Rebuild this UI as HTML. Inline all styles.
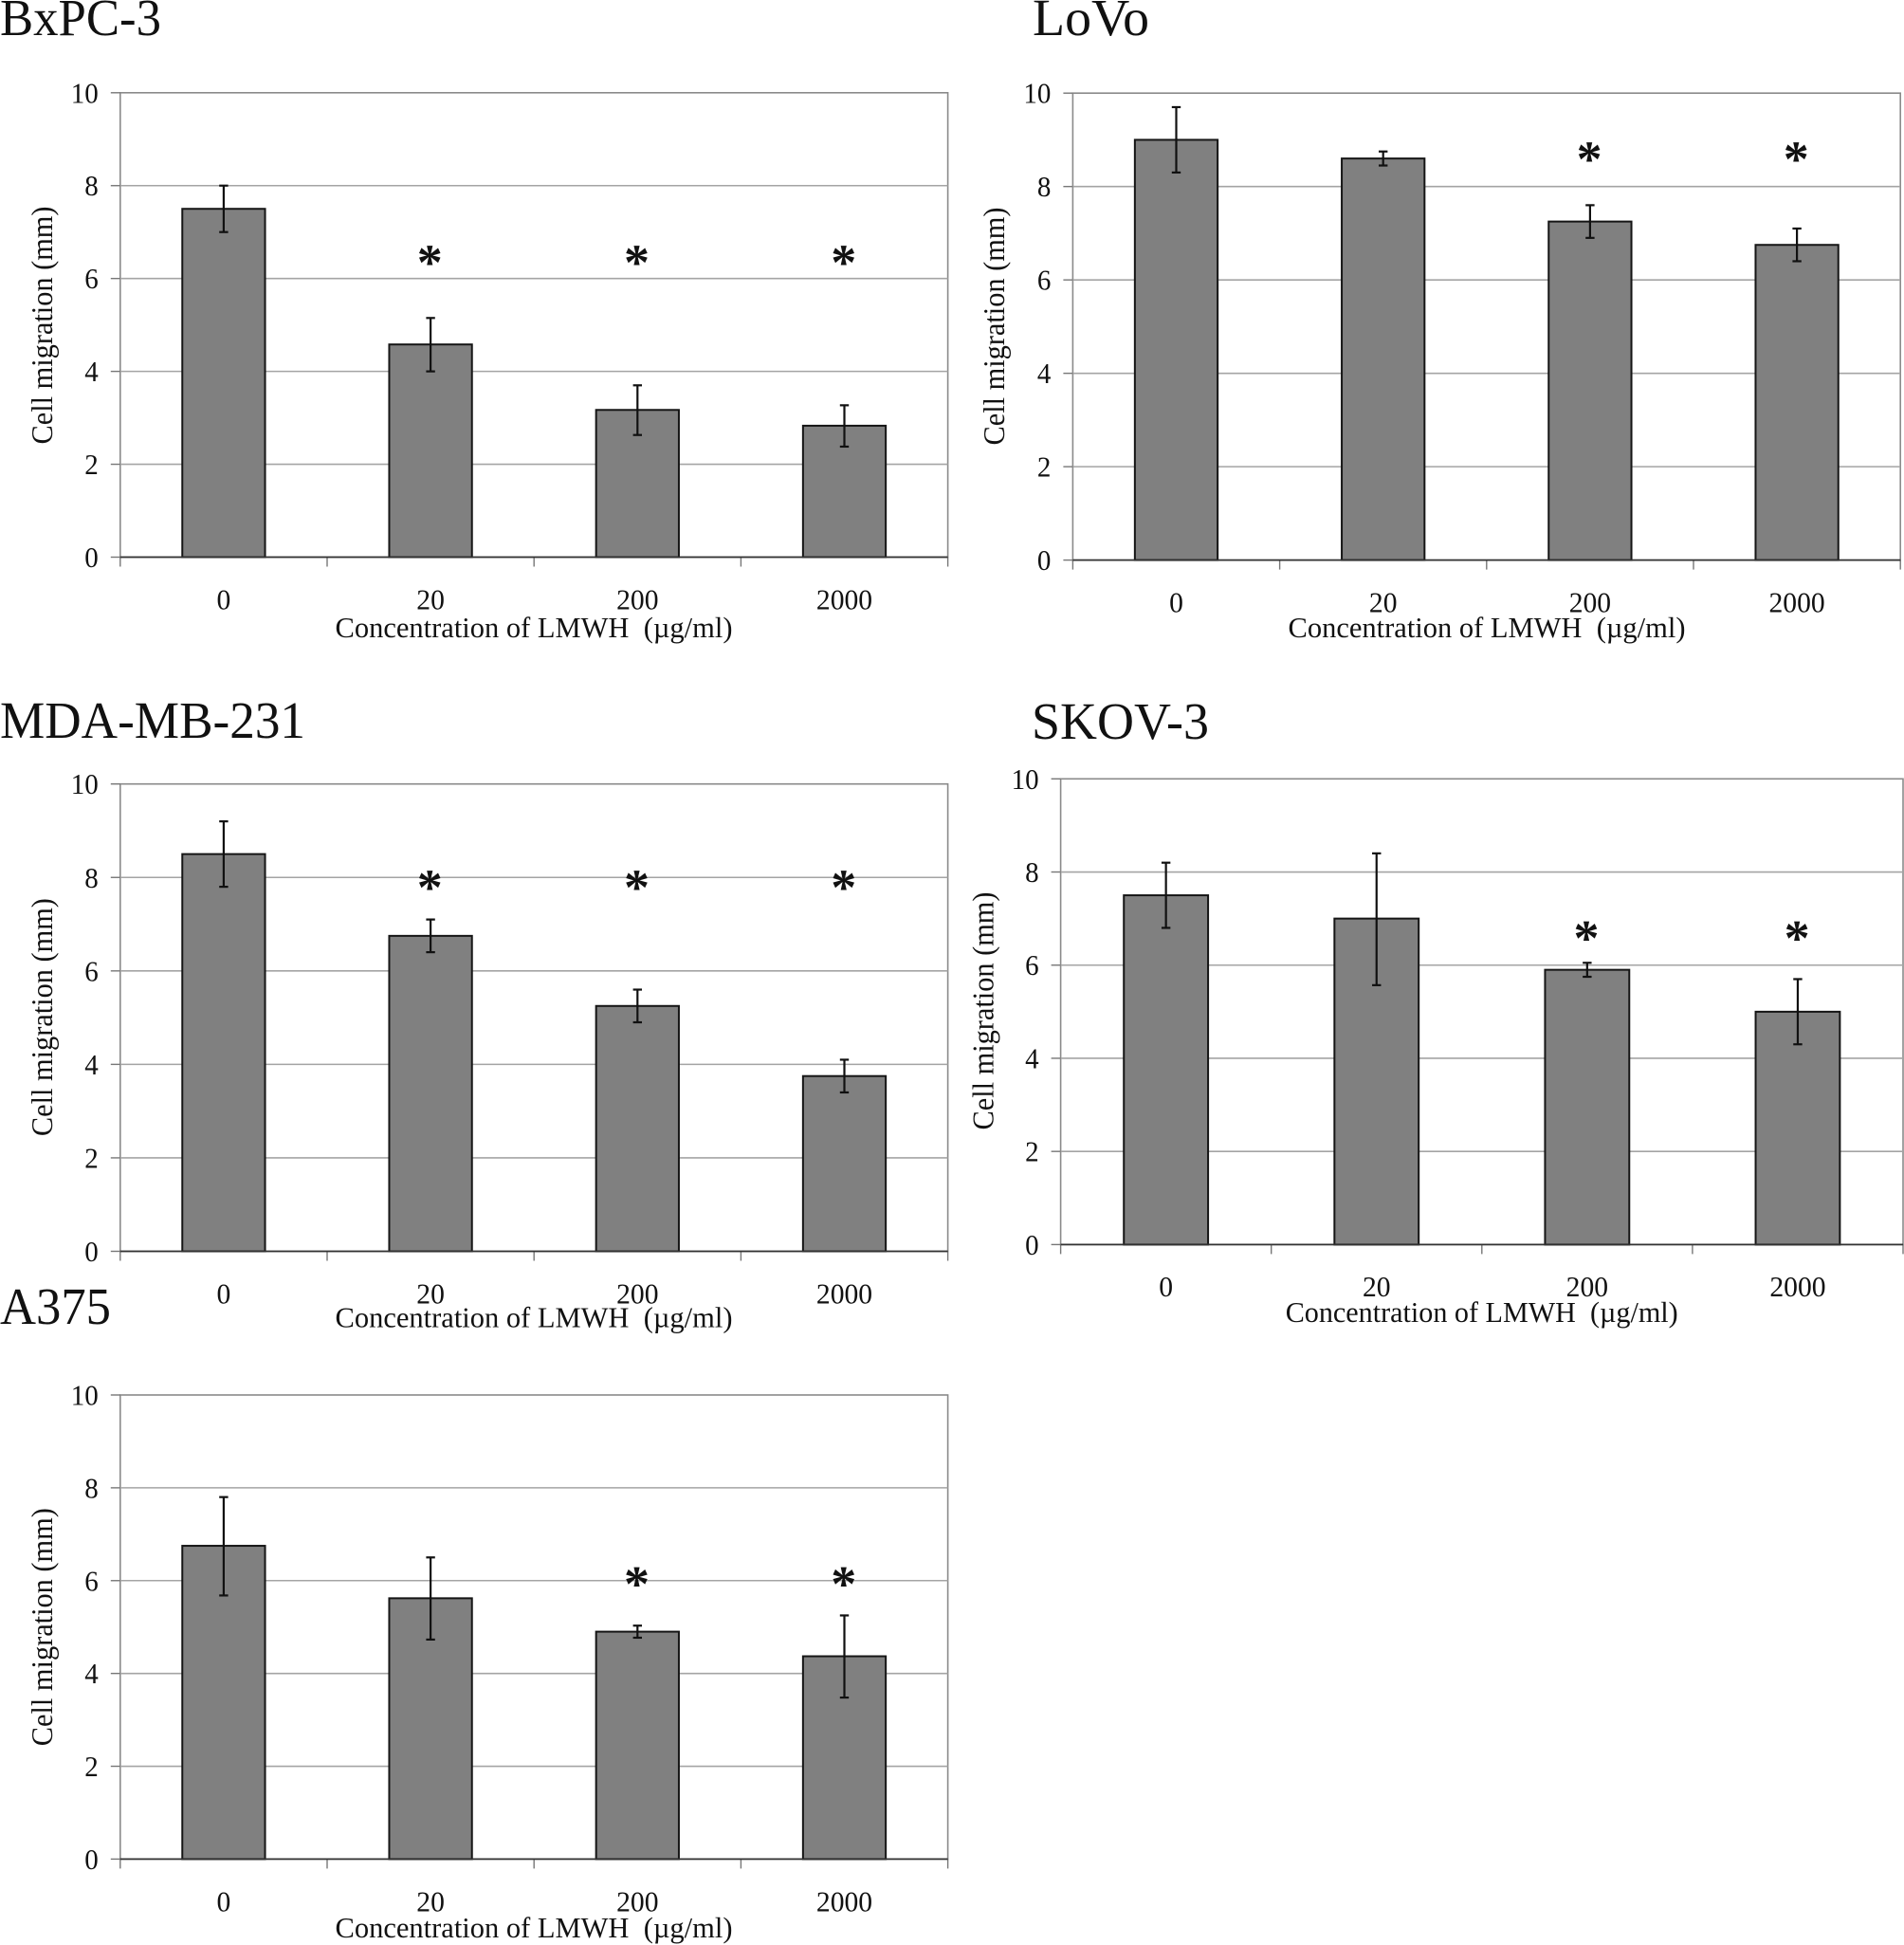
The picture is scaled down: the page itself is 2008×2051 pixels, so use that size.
<!DOCTYPE html>
<html lang="en">
<head>
<meta charset="utf-8">
<title>Cell migration by LMWH concentration</title>
<style>
  html, body { margin: 0; padding: 0; background: #fff; }
  #figure { display: block; width: 2008px; height: 2051px; background: #fff; }
  text { font-family: "Liberation Serif", serif; fill: #111; white-space: pre; }
</style>
</head>
<body>
<svg id="figure" xmlns="http://www.w3.org/2000/svg" width="2008" height="2051" viewBox="0 0 2008 2051"></svg>
<script>
// ---- Shared labels ----
const categories = ["0", "20", "200", "2000"];
const yTickLabels = [0, 2, 4, 6, 8, 10];

// ---- BxPC-3 ----
const bxpcMeans = [7.5, 4.58, 3.17, 2.83];
const bxpcUpper = [8.0, 5.15, 3.7, 3.27];
const bxpcLower = [7.0, 4.0, 2.63, 2.38];
const bxpcStars = [null, 6.48, 6.48, 6.48];

// ---- LoVo ----
const lovoMeans = [9.0, 8.6, 7.25, 6.75];
const lovoUpper = [9.7, 8.75, 7.6, 7.1];
const lovoLower = [8.3, 8.45, 6.9, 6.4];
const lovoStars = [null, null, 8.72, 8.72];

// ---- MDA-MB-231 ----
const mdaMeans = [8.5, 6.75, 5.25, 3.75];
const mdaUpper = [9.2, 7.1, 5.6, 4.1];
const mdaLower = [7.8, 6.4, 4.9, 3.4];
const mdaStars = [null, 7.92, 7.92, 7.92];

// ---- SKOV-3 ----
const skovMeans = [7.5, 7.0, 5.9, 5.0];
const skovUpper = [8.2, 8.4, 6.05, 5.7];
const skovLower = [6.8, 5.57, 5.75, 4.3];
const skovStars = [null, null, 6.72, 6.72];

// ---- A375 ----
const a375Means = [6.75, 5.62, 4.9, 4.37];
const a375Upper = [7.8, 6.5, 5.03, 5.25];
const a375Lower = [5.68, 4.73, 4.77, 3.48];
const a375Stars = [null, null, 6.07, 6.07];

const panels = [
  { id: "bxpc-3", title: "BxPC-3", titleX: 0, titleY: 37, titleW: 170,
    left: 126.8, right: 999.6, top: 97.8, bottom: 587.5,
    tickY: 642.5, xTitleX: 563, xTitleY: 672, xTitleW: 419, yTitleX: 45, yTitleY: 343,
    means: bxpcMeans, upper: bxpcUpper, lower: bxpcLower, stars: bxpcStars },
  { id: "lovo", title: "LoVo", titleX: 1089, titleY: 37, titleW: 123,
    left: 1131.4, right: 2004.2, top: 98.2, bottom: 590.6,
    tickY: 645.5, xTitleX: 1568, xTitleY: 672, xTitleW: 419, yTitleX: 1049, yTitleY: 344,
    means: lovoMeans, upper: lovoUpper, lower: lovoLower, stars: lovoStars },
  { id: "mda-mb-231", title: "MDA-MB-231", titleX: 0, titleY: 778, titleW: 322,
    left: 126.8, right: 999.6, top: 826.7, bottom: 1319.5,
    tickY: 1374.5, xTitleX: 563, xTitleY: 1399.4, xTitleW: 419, yTitleX: 45, yTitleY: 1072.6,
    means: mdaMeans, upper: mdaUpper, lower: mdaLower, stars: mdaStars },
  { id: "skov-3", title: "SKOV-3", titleX: 1088, titleY: 779, titleW: 187,
    left: 1118.6, right: 2007, top: 821.3, bottom: 1312.4,
    tickY: 1367, xTitleX: 1562.7, xTitleY: 1394, xTitleW: 414, yTitleX: 1037.5, yTitleY: 1066,
    means: skovMeans, upper: skovUpper, lower: skovLower, stars: skovStars },
  { id: "a375", title: "A375", titleX: 0, titleY: 1396, titleW: 117,
    left: 126.8, right: 999.6, top: 1471, bottom: 1960.4,
    tickY: 2015.5, xTitleX: 563, xTitleY: 2043, xTitleW: 419, yTitleX: 45, yTitleY: 1715.7,
    means: a375Means, upper: a375Upper, lower: a375Lower, stars: a375Stars }
];

const SVG_NS = "http://www.w3.org/2000/svg";
const root = document.getElementById("figure");

function make(tag, parent, attrs) {
  const el = document.createElementNS(SVG_NS, tag);
  for (const k in attrs) el.setAttribute(k, attrs[k]);
  parent.appendChild(el);
  return el;
}

function drawPanel(p) {
  const yMax = yTickLabels[yTickLabels.length - 1];
  const yScale = v => p.bottom - (v / yMax) * (p.bottom - p.top);
  const band = (p.right - p.left) / categories.length;
  const xCenter = i => p.left + band * (i + 0.5);
  const barWidth = band * 0.4;

  const g = make("g", root, {});
  
  

  const title = make("text", g, { x: p.titleX, y: p.titleY, "font-size": 55, textLength: p.titleW, lengthAdjust: "spacingAndGlyphs" });
  title.textContent = p.title;
  
  

  // plot frame
  const frame = make("rect", g, { x: p.left, y: p.top, width: p.right - p.left, height: p.bottom - p.top, fill: "#fff", stroke: "#8a8a8a", "stroke-width": 1.6 });
  
  

  // gridlines and y ticks
  yTickLabels.forEach(v => {
    const y = yScale(v);
    if (v > 0 && v < yMax) {
      const grid = make("line", g, { x1: p.left, x2: p.right, y1: y, y2: y, stroke: "#a4a4a4", "stroke-width": 1.6 });
      
      
    }
    const tick = make("line", g, { x1: p.left - 10, x2: p.left, y1: y, y2: y, stroke: "#777", "stroke-width": 1.4 });
    
    
    const vText = String(v);
    const label = make("text", g, { x: p.left - 23, y: y + 10.5, "font-size": 31, "text-anchor": "end", textLength: vText.length * 14.5, lengthAdjust: "spacingAndGlyphs" });
    label.textContent = vText;
    
    
  });

  // x ticks
  for (let i = 0; i <= categories.length; i++) {
    const x = p.left + band * i;
    const tick = make("line", g, { x1: x, x2: x, y1: p.bottom, y2: p.bottom + 10, stroke: "#777", "stroke-width": 1.4 });
    
    
  }

  // bars, error bars, significance asterisks, category labels
  categories.forEach((c, i) => {
    const cx = xCenter(i);
    const barTop = yScale(p.means[i]);
    const bar = make("rect", g, { x: cx - barWidth / 2, y: barTop, width: barWidth, height: p.bottom - barTop, fill: "#808080", stroke: "#151515", "stroke-width": 2 });
    
    

    const yU = yScale(p.upper[i]);
    const yL = yScale(p.lower[i]);
    const err = make("line", g, { x1: cx, x2: cx, y1: yU, y2: yL, stroke: "#111", "stroke-width": 2.2 });
    
    
    const capU = make("line", g, { x1: cx - 4.7, x2: cx + 4.7, y1: yU, y2: yU, stroke: "#111", "stroke-width": 2.2 });
    
    
    const capL = make("line", g, { x1: cx - 4.7, x2: cx + 4.7, y1: yL, y2: yL, stroke: "#111", "stroke-width": 2.2 });
    
    

    if (p.stars[i] !== null) {
      const star = make("text", g, { x: cx - 0.8, y: yScale(p.stars[i]) + 25, "font-size": 54, "font-weight": "bold", "text-anchor": "middle" });
      star.textContent = "*";
      
      
    }

    const cat = make("text", g, { x: cx, y: p.tickY, "font-size": 31, "text-anchor": "middle", textLength: c.length * 14.8, lengthAdjust: "spacingAndGlyphs" });
    cat.textContent = c;
    
    
  });

  // x axis line on top
  const axis = make("line", g, { x1: p.left, x2: p.right, y1: p.bottom, y2: p.bottom, stroke: "#333", "stroke-width": 1.8 });
  
  

  const xTitle = make("text", g, { x: p.xTitleX, y: p.xTitleY, "font-size": 31, "text-anchor": "middle", textLength: p.xTitleW, lengthAdjust: "spacingAndGlyphs" });
  xTitle.textContent = "Concentration of LMWH  (\u00B5g/ml)";
  
  

  const yTitle = make("text", g, { x: 0, y: 0, "font-size": 32, "text-anchor": "middle", textLength: 251, lengthAdjust: "spacingAndGlyphs", transform: "translate(" + (p.yTitleX + 10) + " " + p.yTitleY + ") rotate(-90)" });
  yTitle.textContent = "Cell migration (mm)";
  
  
}

panels.forEach(drawPanel);
</script>
</body>
</html>
